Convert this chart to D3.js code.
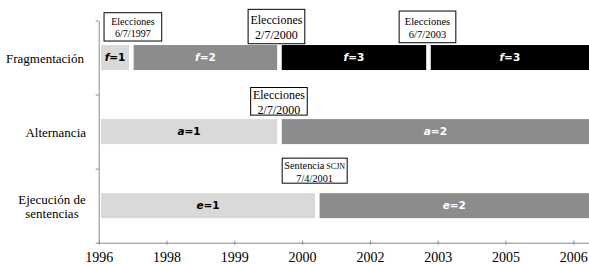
<!DOCTYPE html>
<html>
<head>
<meta charset="utf-8">
<script src="https://cdn.jsdelivr.net/npm/d3@7"></script>
<style>
  body { margin: 0; background: #fff; }
  svg { display: block; }
</style>
</head>
<body>
<svg width="589" height="264"></svg>
<script>
var parse = d3.timeParse("%Y-%m-%d");

// categories (rows) and their printed lines
var categories = ["Fragmentación", "Alternancia", "Ejecución de sentencias"];
var categoryLines = [["Fragmentación"], ["Alternancia"], ["Ejecución de", "sentencias"]];

// date axis: min date, major unit in days, number of ticks
var axisStart = "1996-11-07";
var axisEnd = "2006-11-10";
var tickStepDays = 500;
var tickCount = 8;

// bar segments
var segRow   = [0, 0, 0, 0, 1, 1, 2, 2];
var segStart = ["1996-11-07", "1997-07-06", "2000-07-02", "2003-07-06", "1996-11-07", "2000-07-02", "1996-11-07", "2001-04-07"];
var segEnd   = ["1997-07-06", "2000-07-02", "2003-07-06", "2006-11-10", "2000-07-02", "2006-11-10", "2001-04-07", "2006-11-10"];
var segVar   = ["f", "f", "f", "f", "a", "a", "e", "e"];
var segValue = [1, 2, 3, 3, 1, 2, 1, 2];

// event call-outs
var eventRow   = [0, 0, 0, 1, 2];
var eventDate  = ["1997-07-06", "2000-07-02", "2003-07-06", "2000-07-02", "2001-04-07"];
var eventTitle = ["Elecciones", "Elecciones", "Elecciones", "Elecciones", "Sentencia"];
var eventTag   = ["", "", "", "", "SCJN"];
var eventLine2 = ["6/7/1997", "2/7/2000", "6/7/2003", "2/7/2000", "7/4/2001"];

// ---- layout / style ----
var plotLeft = 98.7, plotTop = 20.5, plotBottom = 242.7;
var pxPerDay = 67.8 / tickStepDays;
var fills = {1: "#d9d9d9", 2: "#8c8c8c", 3: "#000000"};
var textFill = {1: "#000", 2: "#fff", 3: "#fff"};
var axisColor = "#8a8a8a";
var serif = "'Liberation Serif', 'Times New Roman', serif";
var labelCx = [45, 55.7, 52];
var evFont = [10, 12, 10.5, 12, 10.3];
var evW = [57.7, 56.7, 56.7, 56.6, 65];
var evH = [28.3, 34.4, 31.7, 27.6, 25];
var evDx = [1.5, -3, -1, -0.5, -2.6];
var evLift = [4, 1.3, 2.3, 4, 10];

var svg = d3.select("svg");

var t0 = parse(axisStart), t1 = parse(axisEnd);
var x = d3.scaleTime()
  .domain([t0, t1])
  .range([plotLeft, plotLeft + d3.timeDay.count(t0, t1) * pxPerDay]);

var y = d3.scaleBand().domain(categories).range([plotTop, plotBottom]);
var yb = d3.scaleLinear().domain([0, categories.length]).range([plotTop, plotBottom]);

// bars
var segs = segRow.map((r, i) => ({
  row: categories[r], start: parse(segStart[i]), end: parse(segEnd[i]),
  v: segVar[i], val: segValue[i]
}));
var barH = 25, inset = 2.3;

var bars = svg.append("g").attr("id", "bars");
bars.selectAll("rect").data(segs).enter().append("rect")
  .attr("x", d => x(d.start) + inset)
  .attr("width", d => x(d.end) - x(d.start) - 2 * inset)
  .attr("y", d => y(d.row) + y.bandwidth() / 2 - barH / 2)
  .attr("height", barH)
  .attr("fill", d => fills[d.val]);

var lab = bars.selectAll("text").data(segs).enter().append("text")
  .attr("x", d => {
    var a = x(d.start) + inset, b = Math.min(x(d.end) - inset, 589);
    return (a + b) / 2;
  })
  .attr("y", d => y(d.row) + y.bandwidth() / 2 + 3.5)
  .attr("text-anchor", "middle")
  .attr("font-family", "'DejaVu Sans', sans-serif")
  .attr("font-weight", "bold")
  .attr("font-size", 10.5)
  .attr("fill", d => textFill[d.val]);
lab.append("tspan").attr("font-style", "italic").text(d => d.v);
lab.append("tspan").text(d => "=" + d.val);

// y axis
var yAxis = svg.append("g")
  .attr("transform", "translate(" + plotLeft + ",0)")
  .call(d3.axisLeft(yb).tickValues(d3.range(categories.length + 1)).tickFormat("").tickSize(3).tickSizeOuter(0));
yAxis.selectAll("path, line").attr("stroke", axisColor);

// x axis
var ticks = d3.range(tickCount).map(i => d3.timeDay.offset(t0, i * tickStepDays));
var xAxis = svg.append("g")
  .attr("transform", "translate(0," + plotBottom + ")")
  .call(d3.axisBottom(x).tickValues(ticks).tickFormat(d3.timeFormat("%Y")).tickSize(2).tickSizeOuter(0));
xAxis.selectAll("path, line").attr("stroke", axisColor);
xAxis.selectAll(".tick line").attr("y1", -2);
xAxis.selectAll("text")
  .attr("y", 9.3)
  .attr("font-family", serif)
  .attr("font-size", 14)
  .attr("fill", "#000");

// category labels
categories.forEach((c, i) => {
  var lines = categoryLines[i], cy = y(c) + y.bandwidth() / 2;
  var t = svg.append("text")
    .attr("text-anchor", "middle")
    .attr("font-family", serif)
    .attr("font-size", 13)
    .attr("fill", "#000");
  lines.forEach((ln, j) => {
    t.append("tspan")
      .attr("x", labelCx[i])
      .attr("y", cy + 5.5 + (j - (lines.length - 1) / 2) * 14.4)
      .text(ln);
  });
});

// event boxes
var ev = svg.append("g").attr("id", "events");
eventRow.forEach((r, i) => {
  var cx = x(parse(eventDate[i])) + evDx[i];
  var barTop = y(categories[r]) + y.bandwidth() / 2 - barH / 2;
  var by1 = barTop - evLift[i], by0 = by1 - evH[i];
  var g = ev.append("g");
  g.append("rect")
    .attr("x", cx - evW[i] / 2)
    .attr("y", by0)
    .attr("width", evW[i])
    .attr("height", evH[i])
    .attr("fill", "#fff")
    .attr("stroke", "#000")
    .attr("stroke-width", 1);
  var fs = evFont[i], ls = fs * 1.25, mid = (by0 + by1) / 2;
  var t = g.append("text")
    .attr("text-anchor", "middle")
    .attr("font-family", serif)
    .attr("font-size", fs)
    .attr("fill", "#000");
  t.append("tspan").attr("x", cx).attr("y", mid - ls / 2 + fs * 0.33 + 1).text(eventTitle[i]);
  if (eventTag[i]) {
    t.append("tspan").attr("font-size", fs * 0.78).text(" " + eventTag[i]);
  }
  t.append("tspan").attr("x", cx).attr("y", mid + ls / 2 + fs * 0.33 + 1).text(eventLine2[i]);
});
</script>
</body>
</html>
